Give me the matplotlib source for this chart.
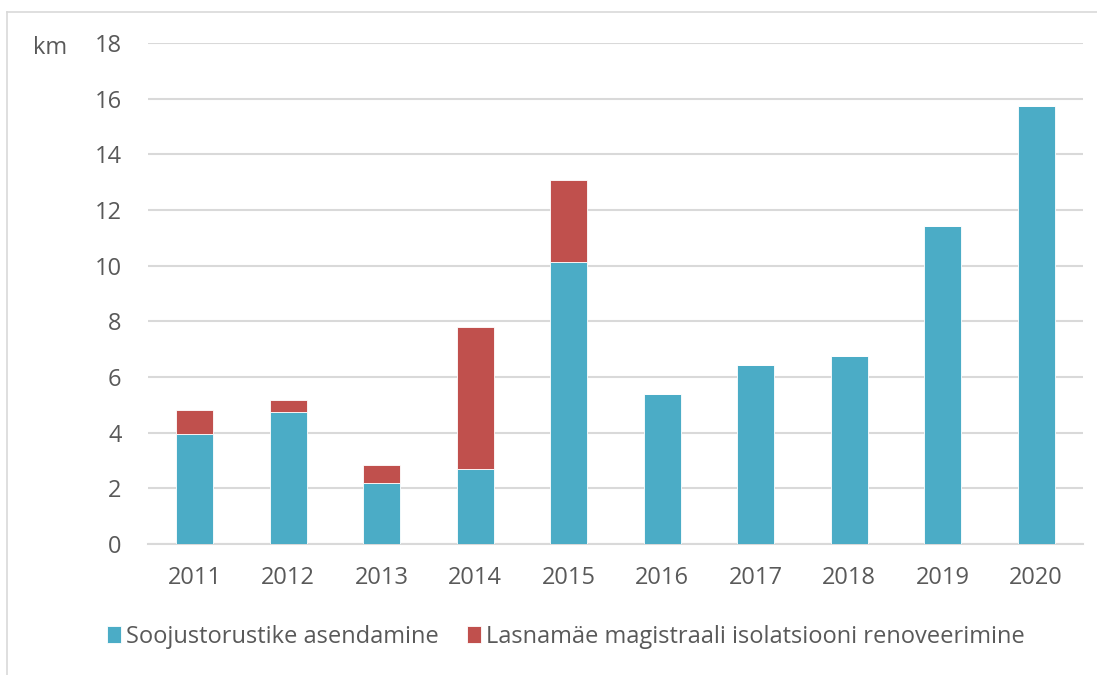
import numpy as np
import matplotlib.pyplot as plt
from matplotlib.lines import Line2D

# data
years = ["2011", "2012", "2013", "2014", "2015", "2016", "2017", "2018", "2019", "2020"]
replacement = [3.95, 4.73, 2.18, 2.68, 10.13, 5.39, 6.43, 6.76, 11.43, 15.74]
insulation = [0.87, 0.44, 0.65, 5.12, 2.95, 0, 0, 0, 0, 0]

series_names = ["Soojustorustike asendamine",
                "Lasnamäe magistraali isolatsiooni renoveerimine"]

blue = "#4BACC6"
red = "#C0504D"
text_color = "#595959"

plt.rcParams["font.family"] = ["Open Sans", "DejaVu Sans"]

fig = plt.figure(figsize=(10.97, 6.75), dpi=100)
ax = fig.add_axes([148 / 1097, 1 - 544 / 675, (1083 - 148) / 1097, (544 - 43) / 675])

x = np.arange(len(years))
ax.bar(x, replacement, width=0.4, color=blue, edgecolor="white", linewidth=0.6,
       label=series_names[0], zorder=3)
ax.bar(x, insulation, width=0.4, bottom=replacement, color=red, edgecolor="white",
       linewidth=0.6, label=series_names[1], zorder=3)

ax.set_xlim(-0.5, len(years) - 0.5)
ax.set_ylim(0, 18)
ax.set_yticks(range(0, 19, 2))
ax.set_xticks(x)
ax.set_xticklabels(years)

# grid and axis styling
ax.grid(axis="y", color="#D9D9D9", linewidth=1.5, zorder=0)
for side in ["top", "right", "left"]:
    ax.spines[side].set_visible(False)
ax.spines["bottom"].set_color("#D9D9D9")
ax.spines["bottom"].set_linewidth(1.5)
ax.tick_params(axis="both", length=0, labelsize=17, colors=text_color)
ax.tick_params(axis="y", pad=19)
ax.tick_params(axis="x", pad=16)

# unit label
fig.text(50 / 1097, 1 - 48 / 675, "km", fontsize=17, color=text_color,
         ha="center", va="center")

# legend
leg = fig.legend(loc="center", bbox_to_anchor=(566 / 1097, 1 - 637 / 675), ncol=2,
                 frameon=False, fontsize=17, handlelength=0.6, handleheight=0.7,
                 handletextpad=0.2, columnspacing=1.2)
for t in leg.get_texts():
    t.set_color(text_color)

# chart border (top and left visible)
fig.add_artist(Line2D([7 / 1097, 1], [1 - 12 / 675, 1 - 12 / 675], color="#D9D9D9", linewidth=1.2))
fig.add_artist(Line2D([7 / 1097, 7 / 1097], [0, 1 - 12 / 675], color="#D9D9D9", linewidth=1.2))

plt.savefig("out.png", dpi=100)
